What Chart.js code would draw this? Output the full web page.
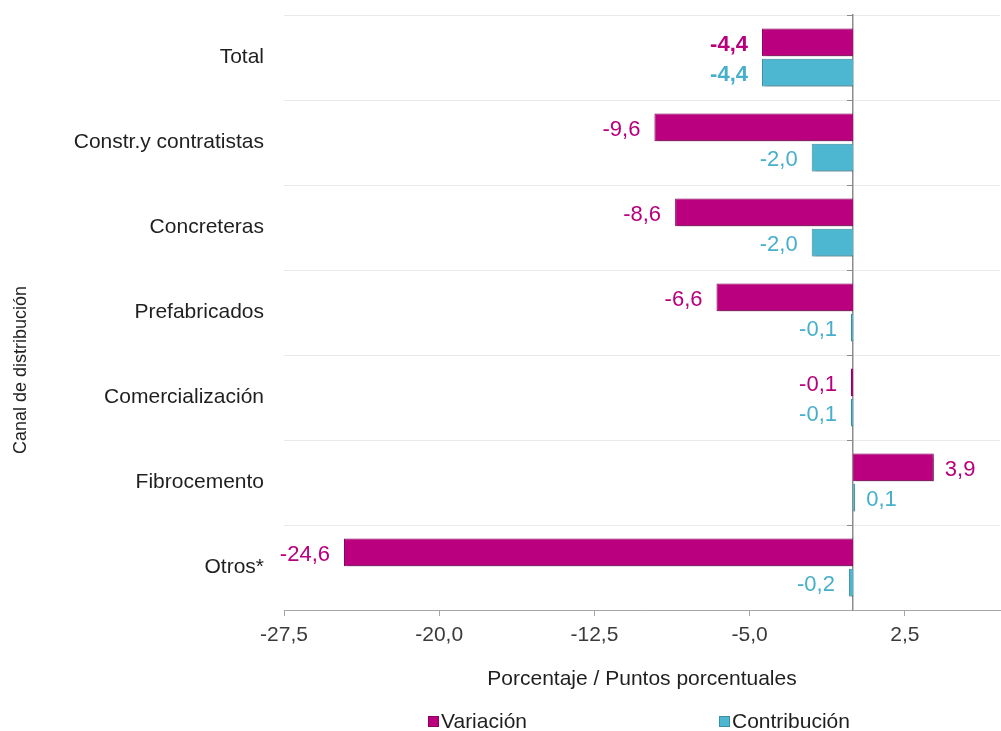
<!DOCTYPE html>
<html><head><meta charset="utf-8">
<script src="https://cdn.jsdelivr.net/npm/chart.js@4.4.1/dist/chart.umd.min.js"></script>
<style>html,body{margin:0;padding:0;background:#fff;overflow:hidden}#wrap{position:relative;width:1001px;height:731px}</style>
</head><body><div id="wrap"><canvas id="c" width="1001" height="731"></canvas></div>
<script>
const categories = ['Total', 'Constr.y contratistas', 'Concreteras', 'Prefabricados', 'Comercialización', 'Fibrocemento', 'Otros*'];
const variacion = [-4.4, -9.6, -8.6, -6.6, -0.1, 3.9, -24.6];
const contribucion = [-4.4, -2.0, -2.0, -0.1, -0.1, 0.1, -0.2];
const xTicks = [-27.5, -20, -12.5, -5, 2.5];
const seriesNames = ['Variación', 'Contribución'];
const yTitle = 'Canal de distribución';
const xTitle = 'Porcentaje / Puntos porcentuales';

const FONT = '"Liberation Sans", Arial, sans-serif';
const MAGENTA = '#BA007F';
const CYAN = '#4DB7D1';
const MAGENTA_TXT = '#B8007E';
const CYAN_TXT = '#47AFCB';
const fmt = v => v.toFixed(1).replace('.', ',');

const shadowPlugin = {
  id: 'shadow',
  beforeDatasetsDraw(chart) {
    const ctx = chart.ctx; ctx.save();
    ctx.shadowColor = 'rgba(0,0,0,0.4)'; ctx.shadowOffsetX = 2; ctx.shadowOffsetY = 2; ctx.shadowBlur = 3;
  },
  afterDatasetsDraw(chart) { chart.ctx.restore(); }
};

const labelPlugin = {
  id: 'valueLabels',
  afterDraw(chart) {
    const ctx = chart.ctx;
    ctx.save();
    ctx.textBaseline = 'middle';
    chart.data.datasets.forEach((ds, di) => {
      const meta = chart.getDatasetMeta(di);
      meta.data.forEach((el, i) => {
        const v = ds.data[i];
        ctx.font = (i === 0 ? 'bold ' : '') + '22px ' + FONT;
        ctx.fillStyle = di === 0 ? MAGENTA_TXT : CYAN_TXT;
        const dy = di === 0 ? 3 : 2;
        if (v < 0) { ctx.textAlign = 'right'; ctx.fillText(fmt(v), el.x - 14, el.y + dy); }
        else { ctx.textAlign = 'left'; ctx.fillText(fmt(v), el.x + 11, el.y + dy); }
      });
    });
    ctx.restore();
  }
};

const extrasPlugin = {
  id: 'extras',
  afterDraw(chart) {
    const ctx = chart.ctx;
    ctx.save();
    ctx.translate(21, 370);
    ctx.rotate(-Math.PI / 2);
    ctx.font = '18px ' + FONT;
    ctx.fillStyle = '#1f1f1f';
    ctx.textAlign = 'center';
    ctx.textBaseline = 'middle';
    ctx.fillText(yTitle, 0, 0);
    ctx.restore();
    ctx.save();
    ctx.font = '21px ' + FONT;
    ctx.textBaseline = 'middle';
    ctx.textAlign = 'left';
    const items = [{x: 428, c: MAGENTA, b: '#8C0060'}, {x: 719, c: CYAN, b: '#3B8FA3'}];
    chart.data.datasets.forEach((ds, i) => {
      const it = items[i];
      ctx.fillStyle = it.c; ctx.fillRect(it.x, 716, 11, 11);
      ctx.strokeStyle = it.b; ctx.lineWidth = 1; ctx.strokeRect(it.x + 0.5, 716.5, 10, 10);
      ctx.fillStyle = '#1f1f1f';
      ctx.fillText(ds.label, it.x + 13, 722);
    });
    ctx.restore();
  }
};

new Chart(document.getElementById('c'), {
  type: 'bar',
  data: {
    labels: categories,
    datasets: [
      {label: seriesNames[0], data: variacion, backgroundColor: MAGENTA, borderColor: '#8C0060', borderWidth: 1, yAxisID: 'y', xAxisID: 'x', categoryPercentage: 0.71, barPercentage: 0.92},
      {label: seriesNames[1], data: contribucion, backgroundColor: CYAN, borderColor: '#3B8FA3', borderWidth: 1, yAxisID: 'y', xAxisID: 'x', categoryPercentage: 0.71, barPercentage: 0.92}
    ]
  },
  options: {
    indexAxis: 'y',
    responsive: false,
    animation: false,
    devicePixelRatio: 1,
    layout: {padding: {left: 0, top: 15, right: 1, bottom: 39}},
    plugins: {legend: {display: false}, tooltip: {enabled: false}},
    scales: {
      x: {
        type: 'linear', min: -27.5, max: 7.1,
        afterBuildTicks(s) { s.ticks = xTicks.map(v => ({value: v})); },
        afterFit(s) { s.height = 82; s.paddingLeft = 0; s.paddingRight = 0; },
        grid: {drawOnChartArea: false, drawTicks: true, tickLength: 6, color: '#a6a6a6'},
        border: {display: true, color: '#a6a6a6', width: 1},
        ticks: {padding: 7, color: '#3a3a3a', font: {family: FONT, size: 21}, callback: v => fmt(v), autoSkip: false, maxRotation: 0},
        title: {display: true, text: xTitle, color: '#1f1f1f', font: {family: FONT, size: 21}, padding: {top: 0, bottom: 0}}
      },
      y: {
        type: 'category', position: 'left', offset: true,
        afterFit(s) { s.width = 284; s.paddingTop = 0; s.paddingBottom = 0; },
        grid: {offset: true, drawTicks: false, color: '#e9e9e9', lineWidth: 1},
        border: {display: false},
        ticks: {padding: 20, color: '#1f1f1f', font: {family: FONT, size: 21}}
      },
      y2: {
        type: 'category', labels: categories, position: {x: 0}, offset: true,
        afterFit(s) { s.paddingTop = 0; s.paddingBottom = 0; },
        grid: {offset: true, drawOnChartArea: false, drawTicks: true, tickLength: 5, color: '#8c8c8c'},
        border: {display: true, color: '#8c8c8c', width: 1.5},
        ticks: {display: false}
      }
    }
  },
  plugins: [shadowPlugin, labelPlugin, extrasPlugin]
});
</script></body></html>
